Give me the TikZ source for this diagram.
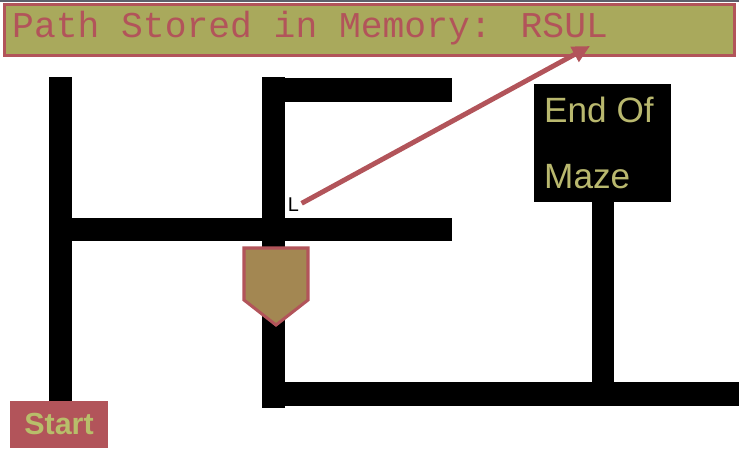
\documentclass[tikz,border=0pt]{standalone}
\usepackage{fontspec}
\setmainfont{Liberation Sans}
\newfontfamily\memfont{Liberation Mono}
\usetikzlibrary{arrows.meta,positioning}
\definecolor{mazeOlive}{HTML}{A9A95C}
\definecolor{mazeRed}{HTML}{B2545A}
\definecolor{mazeText}{HTML}{B9B86E}
\definecolor{startText}{HTML}{B8BE6A}
\definecolor{mazeBrown}{HTML}{A38752}
\definecolor{mazeGray}{HTML}{5E5E6C}

\begin{document}
\begin{tikzpicture}[
  x=0.03cm, y=-0.03cm,
  wall/.style={fill=black},
  banner/.style={
    rectangle, draw=mazeRed, line width=2.6pt, fill=mazeOlive,
    minimum width=21.9cm, minimum height=1.53cm, inner sep=0pt
  },
  memtext/.style={
    font=\memfont\fontsize{31}{31}\selectfont, text=mazeRed, inner sep=0pt
  },
  endbox/.style={
    rectangle, fill=black, minimum width=4.11cm, minimum height=3.54cm,
    inner sep=0pt
  },
  endtext/.style={
    font=\fontsize{30}{30}\selectfont, text=mazeText, inner sep=0pt
  },
  startbox/.style={
    rectangle, fill=mazeRed, minimum width=2.94cm, minimum height=1.41cm,
    inner sep=0pt, font=\bfseries\fontsize{26}{26}\selectfont, text=startText
  },
  robot/.style={fill=mazeBrown, draw=mazeRed, line width=2.6pt, line join=miter},
  arr/.style={-{Triangle[length=15pt,width=14pt]}, line width=4.2pt, mazeRed},
]
\useasboundingbox (0,0) rectangle (739,450);

% === Header ===
\fill[mazeGray] (0,0) rectangle (739,2);
\node[banner] (banner) at (369.5,30) {};
\node[memtext, anchor=west] (memory) at (12,28) {Path Stored in Memory: RSUL};
\coordinate (rsul) at (590,46);

% === Maze walls ===
\fill[wall] (49,77) rectangle (72,403);
\fill[wall] (49,218) rectangle (452,241);
\fill[wall] (262,77) rectangle (285,408);
\fill[wall] (262,78) rectangle (452,102);
\fill[wall] (262,382) rectangle (739,406);
\fill[wall] (592,195) rectangle (614,390);

% === End of maze ===
\node[endbox] (endmaze) at (602.5,143) {};
\node[endtext, anchor=west] (endof) at (544,110) {End Of};
\node[endtext, anchor=west] (maze) at (544,177) {Maze};

% === Start ===
\node[startbox] (start) at (59,424) {Start};

% === Robot ===
\draw[robot] (244,248) -- (308,248) -- (308,300) -- (276,325) -- (244,300) -- cycle;

% === Stored turn ===
\node[font=\fontsize{17}{17}\selectfont, inner sep=0pt] (turn) at (293.5,204.5) {L};
\draw[arr] ([xshift=2pt,yshift=1pt]turn.east) -- (rsul);

\end{tikzpicture}
\end{document}
